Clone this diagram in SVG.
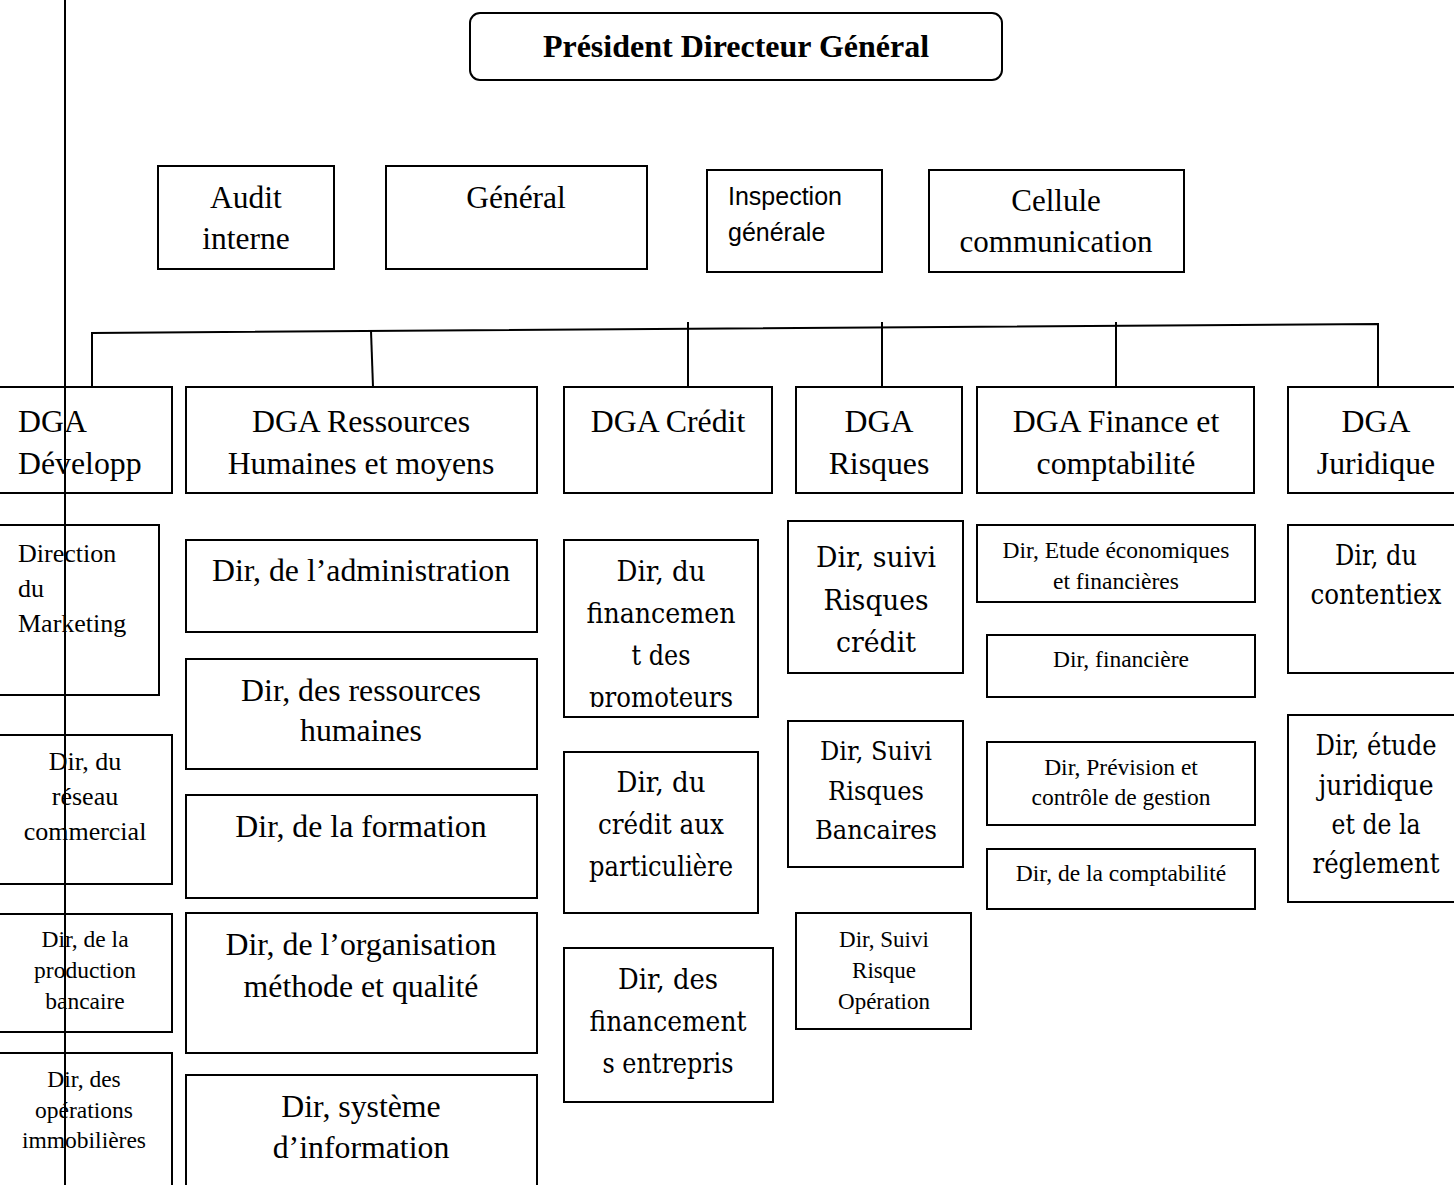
<svg xmlns="http://www.w3.org/2000/svg" width="1454" height="1185" viewBox="0 0 1454 1185">
<style>
.box{fill:#fff;stroke:#000;stroke-width:2}
.ln{fill:none;stroke:#000;stroke-width:2}
text{fill:#000}
.t{font-family:"Liberation Serif","Times New Roman",serif;text-anchor:middle}
.l{font-family:"Liberation Serif","Times New Roman",serif;text-anchor:start}
.c{font-family:"DejaVu Serif",serif;text-anchor:middle}
.s{font-family:"Liberation Sans",Arial,sans-serif;text-anchor:start}
</style>
<defs>
<clipPath id="clipProm"><rect x="564" y="540" width="194" height="167"/></clipPath>
</defs>
<rect width="1454" height="1185" fill="#fff"/>

<g id="connectors">
<path class="ln" d="M92,387 L92,333 L1378,324 L1378,387"/>
<path class="ln" d="M371,331 L373,387"/>
<path class="ln" d="M688,322 L688,387"/>
<path class="ln" d="M882,322 L882,387"/>
<path class="ln" d="M1116,322 L1116,387"/>
</g>

<g id="pdg">
<rect class="box" x="470" y="13" width="532" height="67" rx="10"/>
<text class="t" x="736" y="57" font-size="32" font-weight="bold">Président Directeur Général</text>
</g>
<g id="audit">
<rect class="box" x="158" y="166" width="176" height="103"/>
<text class="t" x="246" y="208" font-size="31.5">Audit</text>
<text class="t" x="246" y="249" font-size="31.5">interne</text>
</g>
<g id="general">
<rect class="box" x="386" y="166" width="261" height="103"/>
<text class="t" x="516" y="208" font-size="31.5">Général</text>
</g>
<g id="inspection">
<rect class="box" x="707" y="170" width="175" height="102"/>
<text class="s" x="728" y="205" font-size="25">Inspection</text>
<text class="s" x="728" y="241" font-size="25">générale</text>
</g>
<g id="cellule">
<rect class="box" x="929" y="170" width="255" height="102"/>
<text class="t" x="1056" y="211" font-size="31">Cellule</text>
<text class="t" x="1056" y="252" font-size="31">communication</text>
</g>

<g id="dga-dev">
<rect class="box" x="-10" y="387" width="182" height="106"/>
<text class="l" x="18" y="432" font-size="31.8">DGA</text>
<text class="l" x="18" y="474" font-size="31.8">Développ</text>
</g>
<g id="dga-rh">
<rect class="box" x="186" y="387" width="351" height="106"/>
<text class="t" x="361" y="432" font-size="31.8">DGA Ressources</text>
<text class="t" x="361" y="474" font-size="31.8">Humaines et moyens</text>
</g>
<g id="dga-credit">
<rect class="box" x="564" y="387" width="208" height="106"/>
<text class="t" x="668" y="432" font-size="31.8">DGA Crédit</text>
</g>
<g id="dga-risques">
<rect class="box" x="796" y="387" width="166" height="106"/>
<text class="t" x="879" y="432" font-size="31.8">DGA</text>
<text class="t" x="879" y="474" font-size="31.8">Risques</text>
</g>
<g id="dga-finance">
<rect class="box" x="977" y="387" width="277" height="106"/>
<text class="t" x="1116" y="432" font-size="31.8">DGA Finance et</text>
<text class="t" x="1116" y="474" font-size="31.8">comptabilité</text>
</g>
<g id="dga-juridique">
<rect class="box" x="1288" y="387" width="180" height="106"/>
<text class="t" x="1376" y="432" font-size="31.8">DGA</text>
<text class="t" x="1376" y="474" font-size="31.8">Juridique</text>
</g>

<g id="dir-marketing">
<rect class="box" x="-10" y="525" width="169" height="170"/>
<text class="l" x="18" y="562" font-size="26">Direction</text>
<text class="l" x="18" y="597" font-size="26">du</text>
<text class="l" x="18" y="632" font-size="26">Marketing</text>
</g>
<g id="dir-reseau">
<rect class="box" x="-10" y="735" width="182" height="149"/>
<text class="t" x="85" y="770" font-size="26">Dir, du</text>
<text class="t" x="85" y="805" font-size="26">réseau</text>
<text class="t" x="85" y="840" font-size="26">commercial</text>
</g>
<g id="dir-production">
<rect class="box" x="-10" y="914" width="182" height="118"/>
<text class="t" x="85" y="947" font-size="23.5">Dir, de la</text>
<text class="t" x="85" y="978" font-size="23.5">production</text>
<text class="t" x="85" y="1009" font-size="23.5">bancaire</text>
</g>
<g id="dir-immobilieres">
<rect class="box" x="-10" y="1053" width="182" height="150"/>
<text class="t" x="84" y="1087" font-size="23.5">Dir, des</text>
<text class="t" x="84" y="1118" font-size="23.5">opérations</text>
<text class="t" x="84" y="1148" font-size="23.5">immobilières</text>
</g>

<g id="dir-administration">
<rect class="box" x="186" y="540" width="351" height="92"/>
<text class="t" x="361" y="581" font-size="31.8">Dir, de l’administration</text>
</g>
<g id="dir-rh">
<rect class="box" x="186" y="659" width="351" height="110"/>
<text class="t" x="361" y="701" font-size="31.8">Dir, des ressources</text>
<text class="t" x="361" y="741" font-size="31.8">humaines</text>
</g>
<g id="dir-formation">
<rect class="box" x="186" y="795" width="351" height="103"/>
<text class="t" x="361" y="837" font-size="31.8">Dir, de la formation</text>
</g>
<g id="dir-organisation">
<rect class="box" x="186" y="913" width="351" height="140"/>
<text class="t" x="361" y="955" font-size="31.8">Dir, de l’organisation</text>
<text class="t" x="361" y="997" font-size="31.8">méthode et qualité</text>
</g>
<g id="dir-si">
<rect class="box" x="186" y="1075" width="351" height="130"/>
<text class="t" x="361" y="1117" font-size="31.8">Dir, système</text>
<text class="t" x="361" y="1158" font-size="31.8">d’information</text>
</g>

<g id="dir-promoteurs">
<rect class="box" x="564" y="540" width="194" height="177"/>
<g clip-path="url(#clipProm)">
<text class="c" x="661" y="581" font-size="28" textLength="89" lengthAdjust="spacingAndGlyphs">Dir, du</text>
<text class="c" x="661" y="623" font-size="28" textLength="149" lengthAdjust="spacingAndGlyphs">financemen</text>
<text class="c" x="661" y="665" font-size="28" textLength="59" lengthAdjust="spacingAndGlyphs">t des</text>
<text class="c" x="661" y="707" font-size="28" textLength="144" lengthAdjust="spacingAndGlyphs">promoteurs</text>
</g>
</g>
<g id="dir-particuliere">
<rect class="box" x="564" y="752" width="194" height="161"/>
<text class="c" x="661" y="792" font-size="28" textLength="89" lengthAdjust="spacingAndGlyphs">Dir, du</text>
<text class="c" x="661" y="834" font-size="28" textLength="126" lengthAdjust="spacingAndGlyphs">crédit aux</text>
<text class="c" x="661" y="876" font-size="28" textLength="144" lengthAdjust="spacingAndGlyphs">particulière</text>
</g>
<g id="dir-entrepris">
<rect class="box" x="564" y="948" width="209" height="154"/>
<text class="c" x="668" y="989" font-size="28" textLength="100" lengthAdjust="spacingAndGlyphs">Dir, des</text>
<text class="c" x="668" y="1031" font-size="28" textLength="157" lengthAdjust="spacingAndGlyphs">financement</text>
<text class="c" x="668" y="1073" font-size="28" textLength="131" lengthAdjust="spacingAndGlyphs">s entrepris</text>
</g>

<g id="dir-risques-credit">
<rect class="box" x="788" y="521" width="175" height="152"/>
<text class="c" x="876" y="567" font-size="28" textLength="120" lengthAdjust="spacingAndGlyphs">Dir, suivi</text>
<text class="c" x="876" y="610" font-size="28" textLength="105" lengthAdjust="spacingAndGlyphs">Risques</text>
<text class="c" x="876" y="652" font-size="28" textLength="80" lengthAdjust="spacingAndGlyphs">crédit</text>
</g>
<g id="dir-risques-bancaires">
<rect class="box" x="788" y="721" width="175" height="146"/>
<text class="c" x="876" y="760" font-size="26" textLength="112" lengthAdjust="spacingAndGlyphs">Dir, Suivi</text>
<text class="c" x="876" y="800" font-size="26" textLength="96" lengthAdjust="spacingAndGlyphs">Risques</text>
<text class="c" x="876" y="839" font-size="26" textLength="122" lengthAdjust="spacingAndGlyphs">Bancaires</text>
</g>
<g id="dir-risque-operation">
<rect class="box" x="796" y="913" width="175" height="116"/>
<text class="t" x="884" y="947" font-size="23">Dir, Suivi</text>
<text class="t" x="884" y="978" font-size="23">Risque</text>
<text class="t" x="884" y="1009" font-size="23">Opération</text>
</g>

<g id="dir-etude-eco">
<rect class="box" x="977" y="525" width="278" height="77"/>
<text class="t" x="1116" y="558" font-size="23.5">Dir, Etude économiques</text>
<text class="t" x="1116" y="589" font-size="23.5">et financières</text>
</g>
<g id="dir-financiere">
<rect class="box" x="987" y="635" width="268" height="62"/>
<text class="t" x="1121" y="667" font-size="23.5">Dir, financière</text>
</g>
<g id="dir-prevision">
<rect class="box" x="987" y="742" width="268" height="83"/>
<text class="t" x="1121" y="775" font-size="23.5">Dir, Prévision et</text>
<text class="t" x="1121" y="805" font-size="23.5">contrôle de gestion</text>
</g>
<g id="dir-comptabilite">
<rect class="box" x="987" y="849" width="268" height="60"/>
<text class="t" x="1121" y="881" font-size="23.5">Dir, de la comptabilité</text>
</g>

<g id="dir-contentiex">
<rect class="box" x="1288" y="525" width="180" height="148"/>
<text class="c" x="1376" y="565" font-size="27" textLength="82" lengthAdjust="spacingAndGlyphs">Dir, du</text>
<text class="c" x="1376" y="604" font-size="27" textLength="131" lengthAdjust="spacingAndGlyphs">contentiex</text>
</g>
<g id="dir-etude-juridique">
<rect class="box" x="1288" y="715" width="180" height="187"/>
<text class="c" x="1376" y="755" font-size="27" textLength="121" lengthAdjust="spacingAndGlyphs">Dir, étude</text>
<text class="c" x="1376" y="795" font-size="27" textLength="115" lengthAdjust="spacingAndGlyphs">juridique</text>
<text class="c" x="1376" y="834" font-size="27" textLength="89" lengthAdjust="spacingAndGlyphs">et de la</text>
<text class="c" x="1376" y="873" font-size="27" textLength="127" lengthAdjust="spacingAndGlyphs">réglement</text>
</g>

<g id="vertical-rule">
<line class="ln" x1="65" y1="0" x2="65" y2="1185"/>
</g>
</svg>
